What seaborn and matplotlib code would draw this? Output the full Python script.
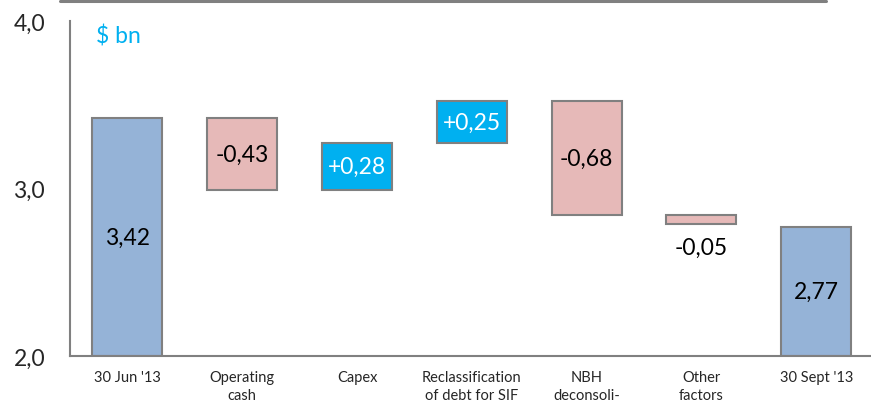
import matplotlib
matplotlib.use("Agg")
import matplotlib.pyplot as plt
from matplotlib.lines import Line2D
import seaborn as sns
import numpy as np

# Bridge of net debt, $ bn
categories = ["30 Jun '13", "Operating\ncash", "Capex", "Reclassification\nof debt for SIF",
              "NBH\ndeconsoli-", "Other\nfactors", "30 Sept '13"]
start_value = 3.42
changes = [-0.43, 0.28, 0.25, -0.68, -0.05]
end_value = 2.77
labels = ["3,42", "-0,43", "+0,28", "+0,25", "-0,68", "-0,05", "2,77"]
y_ticks = [2.0, 3.0, 4.0]
y_tick_labels = ["2,0", "3,0", "4,0"]

TOTAL_COLOR = "#95B3D7"
DECREASE_COLOR = "#E6B9B8"
INCREASE_COLOR = "#00B0F0"
EDGE = "#808080"

# bar extents: totals start at the axis floor, changes float on the running sum
base = 2.0
bottoms, heights, colors = [base], [start_value - base], [TOTAL_COLOR]
running = start_value
for c in changes:
    lo = running + min(c, 0)
    bottoms.append(lo)
    heights.append(abs(c))
    colors.append(INCREASE_COLOR if c > 0 else DECREASE_COLOR)
    running += c
bottoms.append(base)
heights.append(end_value - base)
colors.append(TOTAL_COLOR)

sns.set_style("white")
plt.rcParams["font.family"] = ["Lato", "DejaVu Sans"]

fig = plt.figure(figsize=(8.71, 4.02), dpi=100)
ax = fig.add_axes([70 / 871, 45 / 402, 801 / 871, 335 / 402])

for i, cat in enumerate(categories):
    sns.barplot(x=[cat], y=[heights[i]], bottom=bottoms[i], order=categories,
                color=colors[i], saturation=1, width=0.61,
                edgecolor=EDGE, linewidth=1.5, ax=ax)

# value labels
for i in range(len(categories)):
    mid = bottoms[i] + heights[i] / 2
    txt_color = "white" if colors[i] == INCREASE_COLOR else "black"
    if heights[i] < 0.1:
        ax.text(i, bottoms[i] - 0.14, labels[i], ha="center", va="center",
                fontsize=16.5, color="black")
    else:
        ax.text(i, mid, labels[i], ha="center", va="center",
                fontsize=16.5, color=txt_color)

ax.set_ylim(2.0, 4.0)
ax.set_xlim(-0.5, 6.477)
ax.set_yticks(y_ticks)
ax.set_yticklabels(y_tick_labels, fontsize=16.5)
ax.set_xticks(range(len(categories)))
ax.set_xticklabels(categories, fontsize=10.5, linespacing=1.35, va="top")
ax.set_xticks(np.arange(-0.5, 6.5, 1.0), minor=True)
ax.tick_params(axis="x", which="major", length=0, pad=10)
ax.tick_params(axis="x", which="minor", length=5, width=1.5, color=EDGE, direction="out")
ax.tick_params(axis="y", length=7, width=1.5, color=EDGE, direction="out", pad=11)
ax.set_xlabel("")
ax.set_ylabel("")

for side in ["top", "right"]:
    ax.spines[side].set_visible(False)
for side in ["left", "bottom"]:
    ax.spines[side].set_color(EDGE)
    ax.spines[side].set_linewidth(1.5)

fig.text(96 / 871, 1 - 37 / 402, "$ bn", fontsize=16.5,
         color=INCREASE_COLOR, va="center", ha="left")

# header rule across the top of the slide
fig.add_artist(Line2D([60 / 871, 826 / 871], [1 - 1.5 / 402, 1 - 1.5 / 402],
                      transform=fig.transFigure, color=EDGE, linewidth=2.2))

fig.savefig("out.png", dpi=100)
